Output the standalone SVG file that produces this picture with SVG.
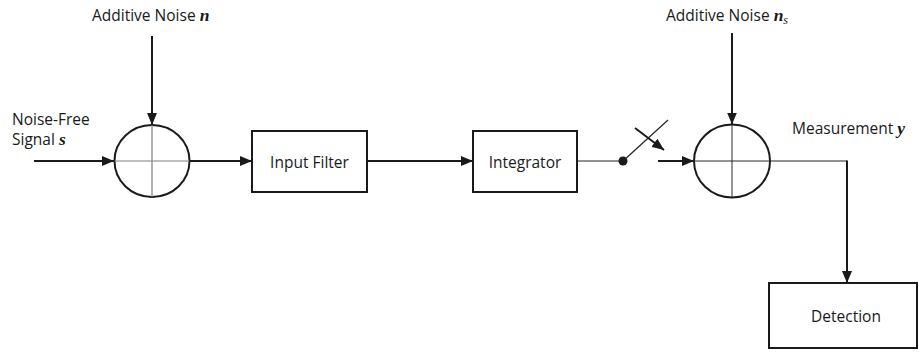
<svg xmlns="http://www.w3.org/2000/svg" width="919" height="354" viewBox="0 0 919 354">
  <style>
    .lbl { font-family: "Open Sans", "Liberation Sans", sans-serif; font-size: 15.5px; fill: #1a1a1a; }
    .mid { text-anchor: middle; }
    .var { font-family: "Liberation Serif", "DejaVu Serif", serif; font-weight: bold; font-style: italic; font-size: 17.5px; }
    .sub { font-family: "Liberation Serif", "DejaVu Serif", serif; font-style: italic; font-size: 12px; }
    .box { fill: #ffffff; stroke: #1a1a1a; stroke-width: 2; }
    .sum { fill: #ffffff; stroke: #1a1a1a; stroke-width: 2; }
    .cross { stroke: #808080; stroke-width: 1.2; fill: none; }
    .cross2 { stroke: #2a2a2a; stroke-width: 1; fill: none; }
    .wire { stroke: #1a1a1a; stroke-width: 2; fill: none; }
    .thin { stroke: #222222; stroke-width: 1.2; fill: none; }
    .arrow { stroke: #1a1a1a; stroke-width: 2; fill: none; marker-end: url(#head); }
  </style>
  <defs>
    <marker id="head" markerUnits="userSpaceOnUse" markerWidth="12" markerHeight="10" refX="12" refY="5" orient="auto">
      <path d="M0,0 L12,5 L0,10 z" fill="#1a1a1a"/>
    </marker>
  </defs>

  <rect width="919" height="354" fill="#ffffff"/>

  <!-- input labels -->
  <g id="label-noise-n">
    <text class="lbl" x="92" y="21">Additive Noise <tspan class="var">n</tspan></text>
  </g>
  <g id="label-signal">
    <text class="lbl" x="12" y="125">Noise-Free</text>
    <text class="lbl" x="12" y="145">Signal <tspan class="var">s</tspan></text>
  </g>
  <g id="label-noise-ns">
    <text class="lbl" x="666" y="21">Additive Noise <tspan class="var">n</tspan><tspan class="sub" dy="3">s</tspan></text>
  </g>
  <g id="label-measurement">
    <text class="lbl" x="792" y="134">Measurement <tspan class="var">y</tspan></text>
  </g>

  <!-- first summing junction -->
  <g id="sum1">
    <ellipse class="sum" cx="152" cy="161" rx="37.5" ry="36"/>
    <line class="cross" x1="114.5" y1="161" x2="189.5" y2="161"/>
    <line class="cross" x1="152" y1="125" x2="152" y2="197"/>
  </g>

  <g id="input-filter">
    <rect class="box" x="252" y="131" width="115" height="61"/>
    <text class="lbl mid" x="309.5" y="168">Input Filter</text>
  </g>

  <g id="integrator">
    <rect class="box" x="473" y="131" width="104" height="61"/>
    <text class="lbl mid" x="525" y="168">Integrator</text>
  </g>

  <!-- second summing junction -->
  <g id="sum2">
    <ellipse class="sum" cx="732" cy="161" rx="38" ry="36.5"/>
    <line class="cross2" x1="694" y1="161" x2="770" y2="161"/>
    <line class="cross2" x1="732" y1="124.5" x2="732" y2="197.5"/>
  </g>

  <g id="detection">
    <rect class="box" x="769" y="283" width="148" height="65"/>
    <text class="lbl mid" x="846" y="322">Detection</text>
  </g>

  <!-- connectors -->
  <g id="connectors">
    <line class="arrow" x1="34" y1="161" x2="114" y2="161"/>
    <line class="arrow" x1="152" y1="36" x2="152" y2="125"/>
    <line class="arrow" x1="189.5" y1="161" x2="252" y2="161"/>
    <line class="arrow" x1="367" y1="161" x2="473" y2="161"/>
    <!-- sampling switch -->
    <line class="thin" x1="577" y1="161" x2="623" y2="161"/>
    <circle cx="623" cy="161" r="4.5" fill="#1a1a1a"/>
    <line class="thin" x1="623" y1="161" x2="668" y2="120"/>
    <line class="arrow" x1="635" y1="128" x2="664" y2="150"/>
    <line class="arrow" x1="658" y1="161" x2="694" y2="161"/>
    <line class="arrow" x1="732" y1="33" x2="732" y2="124.5"/>
    <!-- measurement output to detection -->
    <line class="thin" x1="770" y1="161" x2="847" y2="161"/>
    <line class="arrow" x1="847" y1="160.5" x2="847" y2="283"/>
  </g>
</svg>
